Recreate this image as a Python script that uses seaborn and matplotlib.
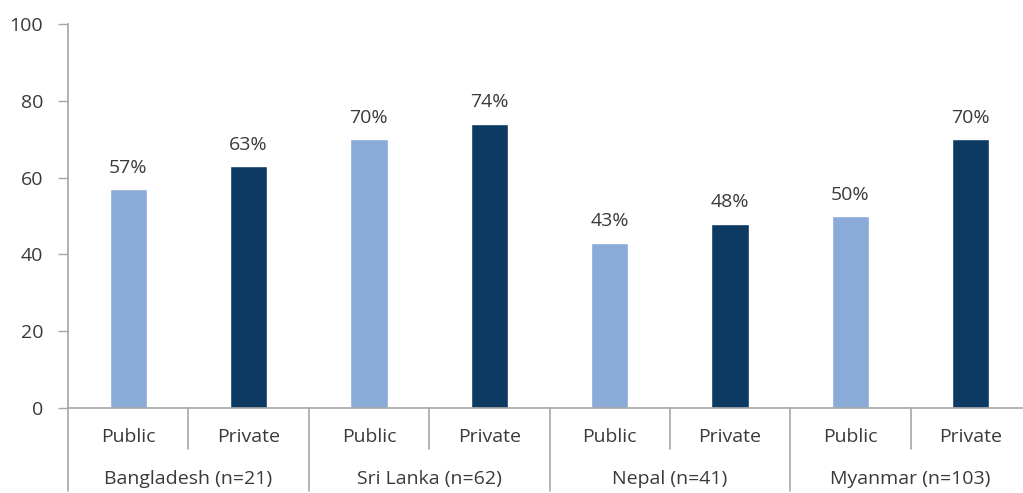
import matplotlib
matplotlib.use("Agg")
import matplotlib.pyplot as plt
import seaborn as sns
import pandas as pd
from matplotlib.lines import Line2D

countries = ["Bangladesh (n=21)", "Sri Lanka (n=62)", "Nepal (n=41)", "Myanmar (n=103)"]
sectors = ["Public", "Private"]
public_values = [57, 70, 43, 50]
private_values = [63, 74, 48, 70]
y_ticks = [0, 20, 40, 60, 80, 100]

rows = []
for c, pub, pri in zip(countries, public_values, private_values):
    rows.append({"country": c, "sector": "Public", "value": pub, "slot": f"{c}|Public"})
    rows.append({"country": c, "sector": "Private", "value": pri, "slot": f"{c}|Private"})
df = pd.DataFrame(rows)

sns.set_theme(style="white")
plt.rcParams["font.family"] = ["Open Sans", "DejaVu Sans"]

text_color = "#3A3A3A"
axis_color = "#A6A6A6"
palette = {"Public": "#8AAAD8", "Private": "#0D3A63"}
fs = 14

fig = plt.figure(figsize=(10.23, 4.93), dpi=100)
ax = fig.add_axes([68 / 1023, 85 / 493, (1031 - 68) / 1023, (408 - 24) / 493])

sns.barplot(data=df, x="slot", y="value", hue="sector", order=list(df["slot"]),
            palette=palette, dodge=False, width=0.31, legend=False, ax=ax,
            saturation=1)

for cont in ax.containers:
    ax.bar_label(cont, labels=[f"{v:.0f}%" if v == v else "" for v in cont.datavalues],
                 padding=9, fontsize=fs, color=text_color)

ax.set_xlim(-0.5, len(df) - 0.5)
ax.set_ylim(0, 100)
ax.set_yticks(y_ticks)
ax.tick_params(axis="y", length=7, width=1, color=axis_color, labelsize=fs,
               labelcolor=text_color, left=True, pad=11)
ax.set_xticks([])
ax.set_xlabel("")
ax.set_ylabel("")
for side in ["top", "right"]:
    ax.spines[side].set_visible(False)
for side in ["left", "bottom"]:
    ax.spines[side].set_color(axis_color)
    ax.spines[side].set_linewidth(1.2)

# two-level category axis below the plot
trans = ax.get_xaxis_transform()
px = 1 / (408 - 24)
for i, s in enumerate(df["sector"]):
    ax.text(i, -29 * px, s, transform=trans, ha="center", va="center",
            fontsize=fs, color=text_color)
for j, c in enumerate(countries):
    ax.text(2 * j + 0.5, -71 * px, c, transform=trans, ha="center", va="center",
            fontsize=fs, color=text_color)
for k in range(len(df) + 1):
    bottom = -83 * px if k % 2 == 0 else -41 * px
    ax.add_line(Line2D([k - 0.5, k - 0.5], [0, bottom], transform=trans,
                       color=axis_color, lw=1.2, clip_on=False))

fig.savefig("out.png", dpi=100)
